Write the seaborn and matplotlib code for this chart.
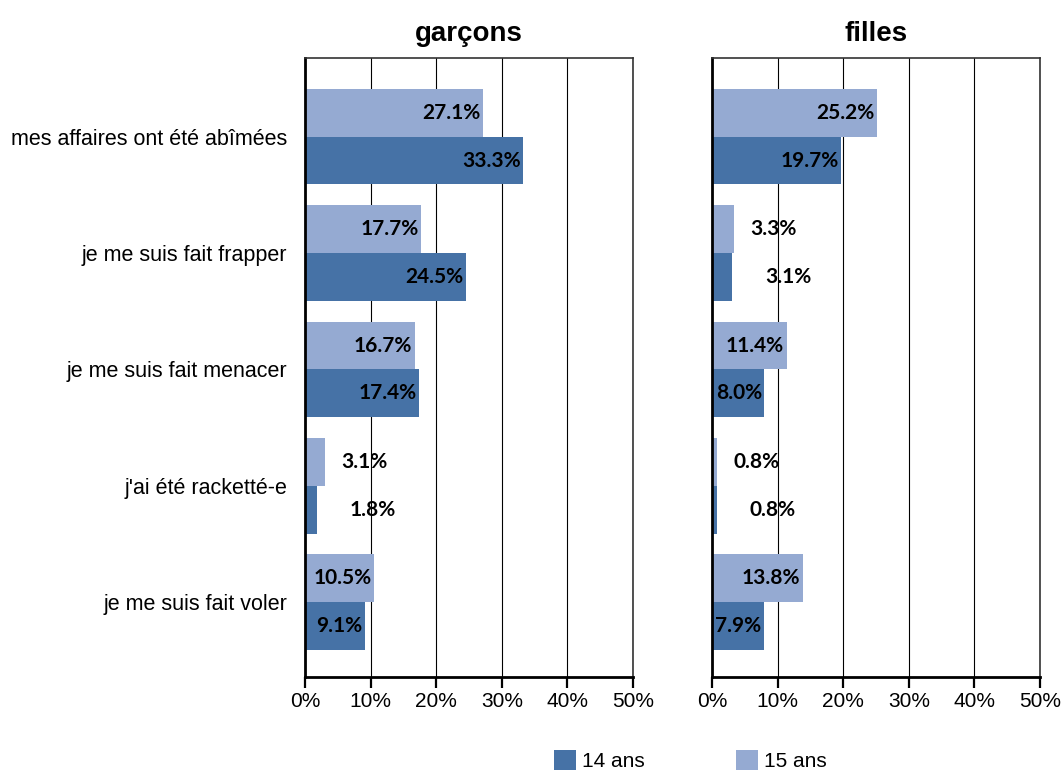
import pandas as pd
import numpy as np
import matplotlib.pyplot as plt
import seaborn as sns
from matplotlib.patches import Patch
from matplotlib.ticker import FuncFormatter

# data
categories = ["mes affaires ont été abîmées", "je me suis fait frapper",
              "je me suis fait menacer", "j'ai été racketté-e", "je me suis fait voler"]
groups = ["garçons", "filles"]
series = ["14 ans", "15 ans"]
garcons_14 = [33.3, 24.5, 17.4, 1.8, 9.1]
garcons_15 = [27.1, 17.7, 16.7, 3.1, 10.5]
filles_14 = [19.7, 3.1, 8.0, 0.8, 7.9]
filles_15 = [25.2, 3.3, 11.4, 0.8, 13.8]

values = {
    ("garçons", "14 ans"): garcons_14,
    ("garçons", "15 ans"): garcons_15,
    ("filles", "14 ans"): filles_14,
    ("filles", "15 ans"): filles_15,
}
rows = []
for (g, s), vals in values.items():
    for c, v in zip(categories, vals):
        rows.append({"groupe": g, "age": s, "categorie": c, "pct": v})
df = pd.DataFrame(rows)

colors = {"14 ans": "#4672A6", "15 ans": "#95AAD2"}

sns.set_style("white")
plt.rcParams["font.family"] = ["Liberation Sans", "DejaVu Sans"]
plt.rcParams["text.color"] = "black"
plt.rcParams["xtick.color"] = "black"
plt.rcParams["ytick.color"] = "black"
plt.rcParams["axes.titlecolor"] = "black"

fig = plt.figure(figsize=(10.64, 7.73), dpi=100)
W, H = 1064, 773
ax_l = fig.add_axes([305 / W, 1 - 677 / H, 328 / W, 619 / H])
ax_r = fig.add_axes([712 / W, 1 - 677 / H, 328 / W, 619 / H])

for ax, g in zip([ax_l, ax_r], groups):
    sub = df[df["groupe"] == g]
    sns.barplot(data=sub, x="pct", y="categorie", hue="age", order=categories,
                hue_order=["15 ans", "14 ans"], palette=colors, orient="h",
                width=0.82, gap=0, ax=ax, legend=False, errorbar=None,
                saturation=1, linewidth=0)
    ax.set_xlim(0, 50)
    ax.set_ylim(4.643, -0.677)
    ax.set_xticks(range(0, 51, 10))
    ax.xaxis.set_major_formatter(FuncFormatter(lambda x, p: f"{x:.0f}%"))
    ax.grid(axis="x", color="black", linewidth=0.8)
    ax.set_axisbelow(True)
    ax.set_xlabel("")
    ax.set_ylabel("")
    ax.set_title(g, fontsize=20, fontweight="bold", pad=12)
    ax.tick_params(axis="x", direction="out", length=8, width=1.6, labelsize=15,
                   bottom=True, pad=3)
    ax.tick_params(axis="y", length=0, labelsize=15.5, pad=13)
    for lbl in ax.get_yticklabels():
        lbl.set_y(lbl.get_position()[1])
    for side in ["left", "bottom"]:
        ax.spines[side].set_linewidth(2)
        ax.spines[side].set_color("black")
    for side in ["top", "right"]:
        ax.spines[side].set_linewidth(1.2)
        ax.spines[side].set_color("#333333")

    # value labels (inside end when the bar is wide enough, beside otherwise)
    for s in ["15 ans", "14 ans"]:
        vals = values[(g, s)]
        off = -0.205 if s == "15 ans" else 0.205
        for i, v in enumerate(vals):
            y = i + off
            txt = f"{v:.1f}%"
            if v >= 5:
                ax.text(v - 0.4, y, txt, ha="right", va="center", fontsize=15,
                        fontweight="bold", family="Lato")
            else:
                shift = 6 if s == "15 ans" else 8.5
                ax.text(v + shift, y, txt, ha="center", va="center", fontsize=15,
                        fontweight="bold", family="Lato")

ax_r.set_yticklabels([])

handles = [Patch(facecolor=colors[s], edgecolor="none", label=s) for s in series]
fig.legend(handles=handles, loc="lower center", bbox_to_anchor=(0.649, -0.022), ncol=2,
           frameon=False, fontsize=15, handlelength=1.05, handleheight=1.1,
           handletextpad=0.3, columnspacing=4.4)

fig.savefig("out.png", dpi=100)
